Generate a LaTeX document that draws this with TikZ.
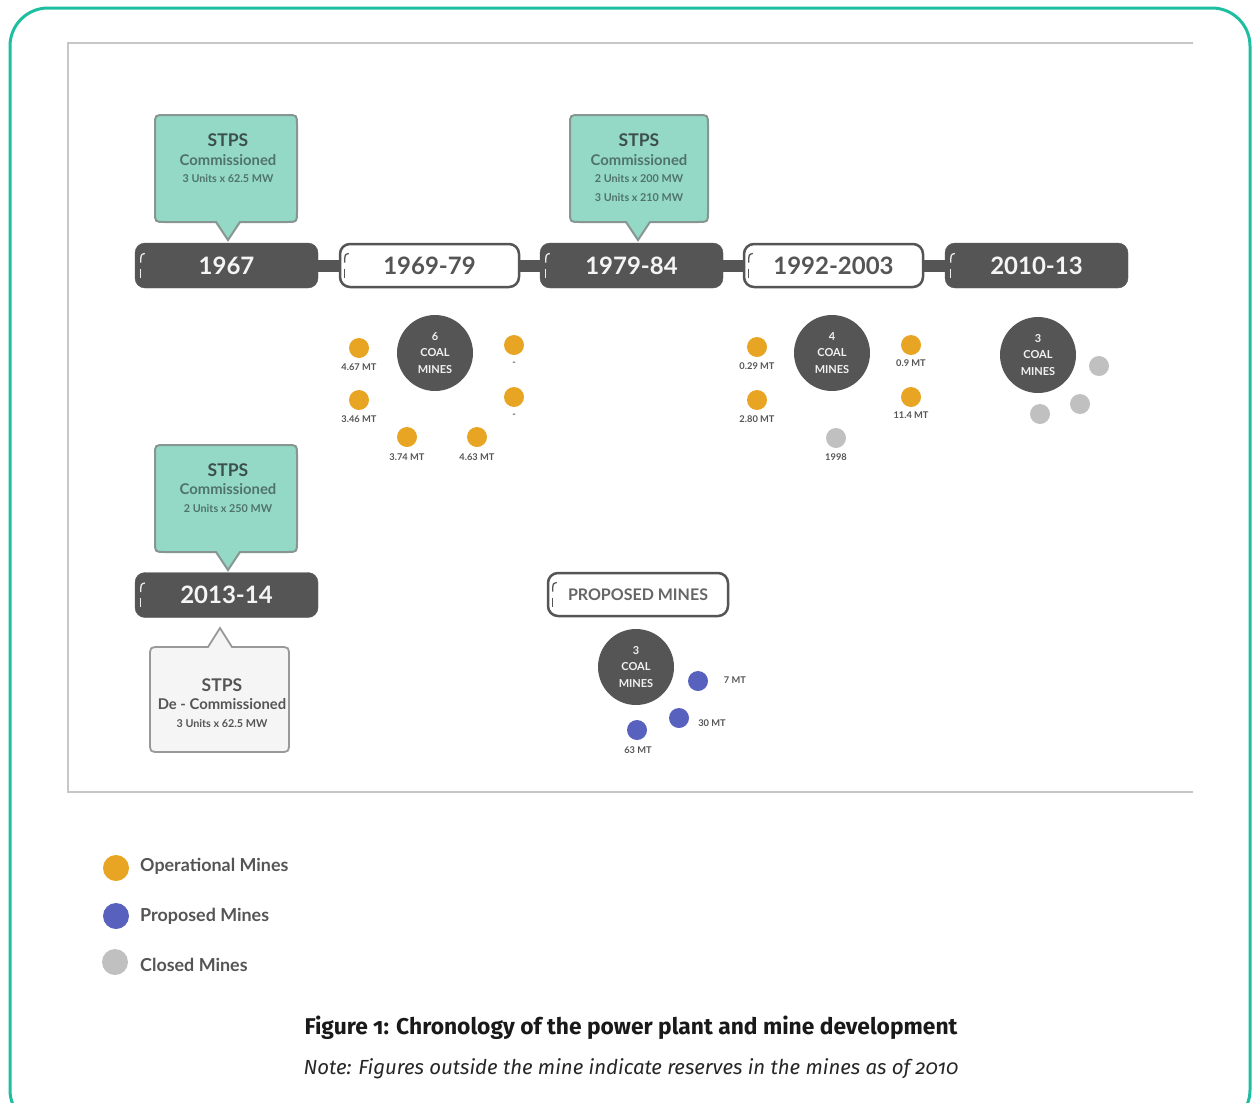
\documentclass[tikz,border=0pt]{standalone}
\usepackage{fontspec}
\setmainfont{Lato}
\newfontfamily\capfont[Numbers=OldStyle]{Fira Sans}
\definecolor{frameteal}{RGB}{30,190,160}
\definecolor{mint}{RGB}{148,217,197}
\definecolor{mintborder}{RGB}{135,150,146}
\definecolor{darkg}{RGB}{85,85,85}
\definecolor{opor}{RGB}{232,165,35}
\definecolor{propb}{RGB}{88,98,190}
\definecolor{closg}{RGB}{192,192,192}
\definecolor{calltxt}{RGB}{60,80,75}
\definecolor{callsub}{RGB}{80,115,105}
\newcommand\calldown[7]{%
  \draw[#7] ({#1+10},#2) -- ({#3-10},#2) .. controls (#3,#2) .. (#3,{#2+10})
    -- (#3,{#4-10}) .. controls (#3,#4) .. ({#3-10},#4)
    -- ({#5+12},#4) -- (#5,#6) -- ({#5-12},#4)
    -- ({#1+10},#4) .. controls (#1,#4) .. (#1,{#4-10})
    -- (#1,{#2+10}) .. controls (#1,#2) .. ({#1+10},#2) -- cycle;}
\newcommand\callup[7]{%
  \draw[#7] ({#1+10},#2) -- ({#5-12},#2) -- (#5,#6) -- ({#5+12},#2)
    -- ({#3-10},#2) .. controls (#3,#2) .. (#3,{#2+10})
    -- (#3,{#4-10}) .. controls (#3,#4) .. ({#3-10},#4)
    -- ({#1+10},#4) .. controls (#1,#4) .. (#1,{#4-10})
    -- (#1,{#2+10}) .. controls (#1,#2) .. ({#1+10},#2) -- cycle;}
\newcommand\bmark[2]{%
  \draw[#2, line width=1.3] ([shift={(10,-12)}]#1.west) .. controls ([shift={(6,-11)}]#1.west) .. ([shift={(6,-3)}]#1.west);
  \draw[#2, line width=1.3] ([shift={(6,3)}]#1.west) -- ([shift={(6,12)}]#1.west);}
\tikzset{
  yrdark/.style={draw=darkg, fill=darkg, rounded corners=10, minimum width=183, minimum height=45,
    text=white!92!gray, font=\fontsize{24}{28}\selectfont\bfseries, inner sep=0},
  yrlight/.style={draw=darkg, fill=white, line width=2.5, rounded corners=10, minimum width=179, minimum height=43,
    text=darkg, font=\fontsize{24}{28}\selectfont\bfseries, inner sep=0},
  tbar/.style={darkg, line width=12},
  callmint/.style={fill=mint, draw=mintborder, line width=2},
  callgray/.style={fill=black!4, draw=black!40, line width=1.8},
  ctitle/.style={text=calltxt, font=\fontsize{17.5}{20}\selectfont\bfseries, inner sep=0},
  csub/.style={text=callsub, font=\fontsize{14.8}{17}\selectfont\bfseries, inner sep=0},
  cunit/.style={text=callsub, font=\fontsize{10.8}{12}\selectfont\bfseries, inner sep=0},
  bigc/.style={circle, fill=darkg, minimum size=76, inner sep=0, align=center,
    text=white!90!gray, font=\fontsize{11}{16.5}\selectfont\bfseries},
  opdot/.style={circle, fill=opor, minimum size=20, inner sep=0},
  prdot/.style={circle, fill=propb, minimum size=20, inner sep=0},
  cldot/.style={circle, fill=closg, minimum size=20, inner sep=0},
  mt/.style={text=darkg, font=\fontsize{9.3}{10}\selectfont\bfseries, inner sep=0},
  legdot/.style={circle, minimum size=26, inner sep=0},
  legtxt/.style={anchor=west, text=darkg, font=\fontsize{17.9}{21}\selectfont\bfseries, inner sep=0},
}
\begin{document}
\begin{tikzpicture}[x=1pt,y=-1pt]
\useasboundingbox (0,0) rectangle (1253,1103);
% outer frame
\draw[frameteal, line width=3, rounded corners=38] (10,8) rectangle (1250,1128);
% inner panel
\draw[black!22, line width=1.5] (1193,43) -- (68,43) -- (68,792) -- (1193,792);

% callouts (drawn first so boxes sit on top of pointer tips)
\calldown{155}{115}{297}{222}{228}{240}{callmint}
\calldown{570}{115}{708}{222}{638}{240}{callmint}
\calldown{155}{445}{297}{552}{228}{570}{callmint}
\callup{150}{647}{289}{752}{220}{628}{callgray}

\node[ctitle] (c1a) at (228,140) {STPS};
\node[csub]   (c1b) at (228,160) {Commissioned};
\node[cunit]  (c1c) at (228,179) {3 Units x 62.5 MW};

\node[ctitle] (c2a) at (639,140) {STPS};
\node[csub]   (c2b) at (639,160) {Commissioned};
\node[cunit]  (c2c) at (639,179) {2 Units x 200 MW};
\node[cunit]  (c2d) at (639,198) {3 Units x 210 MW};

\node[ctitle] (c3a) at (228,470) {STPS};
\node[csub]   (c3b) at (228,489) {Commissioned};
\node[cunit]  (c3c) at (228,509) {2 Units x 250 MW};

\node[ctitle, text=darkg] (c4a) at (222,685) {STPS};
\node[csub, text=darkg]   (c4b) at (222,704) {De - Commissioned};
\node[cunit, text=darkg]  (c4c) at (222,724) {3 Units x 62.5 MW};

% timeline
\node[yrdark]  (y1) at (226.5,265.5) {1967};
\node[yrlight] (y2) at (429.5,265.5) {1969-79};
\node[yrdark]  (y3) at (631.5,265.5) {1979-84};
\node[yrlight] (y4) at (833.5,265.5) {1992-2003};
\node[yrdark]  (y5) at (1036.5,265.5) {2010-13};
\draw[tbar] (y1.east) -- (y2.west);
\draw[tbar] (y2.east) -- (y3.west);
\draw[tbar] (y3.east) -- (y4.west);
\draw[tbar] (y4.east) -- (y5.west);
\node[yrdark] (y6) at (226.5,595) {2013-14};
\node[yrlight, minimum width=180, font=\fontsize{16}{18}\selectfont\bfseries, text=black!60] (pm) at (638,594.5) {PROPOSED MINES};
\bmark{y1}{white!85!gray}
\bmark{y2}{darkg}
\bmark{y3}{white!85!gray}
\bmark{y4}{darkg}
\bmark{y5}{white!85!gray}
\bmark{y6}{white!85!gray}
\bmark{pm}{darkg}

% mines group 1969-79
\node[bigc] (g1) at (435,353) {6\\COAL\\MINES};
\node[opdot] (g1a) at (359,348) {};
\node[mt] (g1al) at (359,367) {4.67 MT};
\node[opdot] (g1b) at (359,400) {};
\node[mt] (g1bl) at (359,419) {3.46 MT};
\node[opdot] (g1c) at (407,437) {};
\node[mt] (g1cl) at (407,457) {3.74 MT};
\node[opdot] (g1d) at (477,437) {};
\node[mt] (g1dl) at (477,457) {4.63 MT};
\node[opdot] (g1e) at (514,345) {};
\node[mt] (g1el) at (514,364) {-};
\node[opdot] (g1f) at (514,397) {};
\node[mt] (g1fl) at (514,416) {-};

% mines group 1992-2003
\node[bigc] (g2) at (832,353) {4\\COAL\\MINES};
\node[opdot] (g2a) at (757,347) {};
\node[mt] (g2al) at (757,366) {0.29 MT};
\node[opdot] (g2b) at (757,400) {};
\node[mt] (g2bl) at (757,419) {2.80 MT};
\node[opdot] (g2c) at (911,345) {};
\node[mt] (g2cl) at (911,363) {0.9 MT};
\node[opdot] (g2d) at (911,397) {};
\node[mt] (g2dl) at (911,415) {11.4 MT};
\node[cldot] (g2e) at (836,438) {};
\node[mt] (g2el) at (836,457) {1998};

% mines group 2010-13
\node[bigc] (g3) at (1038,355) {3\\COAL\\MINES};
\node[cldot] (g3a) at (1099,366) {};
\node[cldot] (g3b) at (1080,404) {};
\node[cldot] (g3c) at (1040,414) {};

% proposed mines
\node[bigc] (g4) at (636,667) {3\\COAL\\MINES};
\node[prdot] (g4a) at (698,681) {};
\node[mt] (g4al) at (735,680) {7 MT};
\node[prdot] (g4b) at (679,718) {};
\node[mt] (g4bl) at (712,723) {30 MT};
\node[prdot] (g4c) at (637,730) {};
\node[mt] (g4cl) at (638,750) {63 MT};

% legend
\node[legdot, fill=opor] (l1) at (116,868) {};
\node[legtxt] (l1t) at (140,866) {Operational Mines};
\node[legdot, fill=propb] (l2) at (116,916) {};
\node[legtxt] (l2t) at (140,916) {Proposed Mines};
\node[legdot, fill=closg] (l3) at (115,962) {};
\node[legtxt] (l3t) at (140,965) {Closed Mines};

% caption
\node[font=\capfont\fontsize{22.8}{26}\selectfont\bfseries, text=black!90, inner sep=0] (cap) at (631,1028) {Figure 1: Chronology of the power plant and mine development};
\node[font=\capfont\fontsize{20.4}{24}\selectfont\itshape, text=black!85, inner sep=0] (note) at (631,1069) {Note: Figures outside the mine indicate reserves in the mines as of 2010};
\end{tikzpicture}
\end{document}
